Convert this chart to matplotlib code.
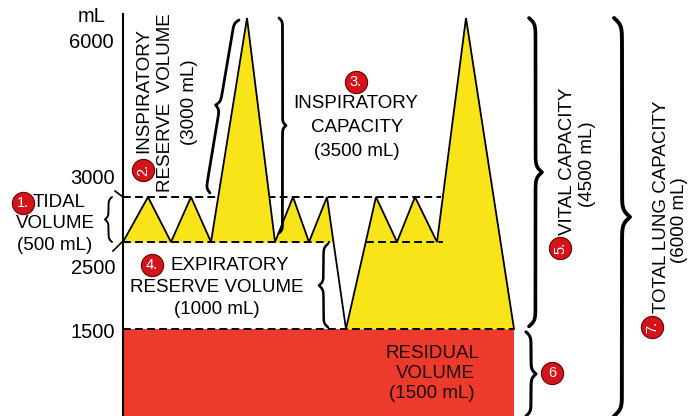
import numpy as np
import matplotlib
matplotlib.use('Agg')
import matplotlib.pyplot as plt

plt.rcParams['font.family'] = ['Liberation Sans', 'DejaVu Sans']

# ---------------- data ----------------
time_s = [12.3, 14.8, 17.1, 19.1, 21.1, 24.7, 27.5, 29.3, 30.9, 32.7,
          34.6, 37.6, 39.7, 41.5, 43.7, 46.6, 51.4]
volume_ml = [2500, 3000, 2500, 3000, 2500, 6000, 2500, 3000, 2500, 3000,
             1500, 3000, 2500, 3000, 2500, 6000, 1500]
tick_values = [6000, 3000, 2500, 1500]
tick_labels = ['6000', '3000', '2500', '1500']
residual_ml = 1500
tidal_top_ml = 3000
tidal_bottom_ml = 2500
peak_ml = 6000

YELLOW = '#F9E41A'
RED = '#EC3A2C'
BADGE = '#D3141B'
FS = 13.5

W, H = 694, 416
fig = plt.figure(figsize=(W / 100, H / 100), dpi=100)
ax = fig.add_axes([0, 0, 1, 1])

# schematic (piecewise) volume scale
vb = [-1500, 0, 1500, 2500, 3000, 6000, 9000]
pb = [-87, 0, 87, 174, 219, 398, 577]
fwd = lambda v: np.interp(v, vb, pb)
inv = lambda p: np.interp(p, pb, vb)
ax.set_yscale('function', functions=(fwd, inv))
ax.set_xlim(0, W / 10)
ax.set_ylim(0, float(inv(H)))
ax.axis('off')

t = np.array(time_s, dtype=float)
v = np.array(volume_ml, dtype=float)
split = int(np.argmin(v))

DASH = (0, (4, 2.2))
# residual volume block
ax.fill_between([t[0], t[-1]], 0, residual_ml, color=RED, lw=0, zorder=1)
# upper tidal reference (behind fill)
ax.hlines(tidal_top_ml, t[0], 44.1, colors='black', lw=1.4,
          linestyles=DASH, zorder=1.5)
# yellow spirogram fills
ax.fill_between(t[:split + 1], v[:split + 1], tidal_bottom_ml,
                where=v[:split + 1] >= tidal_bottom_ml, interpolate=True,
                color=YELLOW, lw=0, zorder=2)
ax.fill_between(t[split:], v[split:], residual_ml, color=YELLOW, lw=0, zorder=2)
# other reference lines
ax.hlines(tidal_bottom_ml, t[0], 33.0, colors='black', lw=1.4,
          linestyles=DASH, zorder=3)
ax.hlines(tidal_bottom_ml, 36.6, 44.3, colors='black', lw=1.4,
          linestyles=DASH, zorder=3)
ax.hlines(residual_ml, t[0], t[-1], colors='black', lw=1.4,
          linestyles=DASH, zorder=3)
# trace
ax.plot(t, v, color='black', lw=1.3, zorder=4, solid_joinstyle='miter')
# vertical axis
ax.plot([t[0], t[0]], [0, 6060], color='black', lw=1.5, zorder=4)

# tick labels
tick_offsets = [(-9, -24), (-8, 18), (-8, -27), (-8, -4)]
for val, lab, off in zip(tick_values, tick_labels, tick_offsets):
    ax.annotate(lab, xy=(t[0], val), xytext=off, textcoords='offset pixels',
                ha='right', va='center', fontsize=14.5)

fig.canvas.draw()
to_data = ax.transData.inverted()


def px2data(px, py):
    return to_data.transform((px, H - py))


def brace(p0, p1, depth, toward, lw=1.8):
    P0 = ax.transData.transform(p0)
    P1 = ax.transData.transform(p1)
    d = P1 - P0
    L = np.hypot(*d)
    u = d / L
    n = np.array([-u[1], u[0]])
    if (toward == 'left' and n[0] > 0) or (toward == 'right' and n[0] < 0):
        n = -n
    half = L / 2
    beta = 4.5 / depth
    s = np.linspace(0, half, 120)
    f = 1 / (1 + np.exp(-beta * s)) + 1 / (1 + np.exp(-beta * (s - half))) - 0.5
    f = f - f[0]
    f = f / f[-1]
    s_full = np.concatenate([s, L - s[::-1]])
    f_full = np.concatenate([f, f[::-1]])
    pts = P0[None, :] + u[None, :] * s_full[:, None] + n[None, :] * depth * f_full[:, None]
    dpts = to_data.transform(pts)
    ax.plot(dpts[:, 0], dpts[:, 1], color='black', lw=lw, zorder=5,
            solid_capstyle='round')


brace((11.2, 3000), (11.2, 2500), 7, 'left', lw=1.4)
brace((21.0, 3067), (23.9, 5966), 9, 'left', lw=2.0)
brace((27.9, 6000), (27.9, 2600), 7, 'right', lw=2.0)
brace((32.8, 2480), (32.8, 1520), 9, 'left', lw=1.8)
brace((52.9, 6000), (52.9, 1530), 13, 'right', lw=2.6)
brace((52.6, 1450), (52.6, 0), 10, 'right', lw=2.2)
brace((61.4, 6000), (61.4, 0), 16, 'right', lw=2.8)

# small guide lines of tidal brace
for a, b in [((115, 191), (123, 197)), ((113, 251), (123, 241))]:
    pa, pb_ = px2data(*a), px2data(*b)
    ax.plot([pa[0], pb_[0]], [pa[1], pb_[1]], color='black', lw=1.2, zorder=5)


def label(px, py, s, rot=0, ha='center', size=FS, color='black'):
    fig.text(px / W, 1 - py / H, s, rotation=rot, ha=ha, va='center',
             fontsize=size, color=color, zorder=6)


def badge(px, py, s, rot=0):
    x, y = px2data(px, py)
    ax.plot([x], [y], marker='o', ms=16, mfc=BADGE, mec='#6a0000', mew=0.8,
            zorder=7, clip_on=False)
    ax.text(x, y, s, rotation=rot, ha='center', va='center', fontsize=10.5,
            color='white', zorder=8)


label(92, 17, 'mL', size=14.5)
# 1 tidal volume
badge(23, 203, '1.')
label(33, 203, 'TIDAL', ha='left')
label(55, 224, 'VOLUME')
label(55, 245, '(500 mL)')
# 2 IRV
badge(143, 170, '2.', rot=90)
label(144, 91, 'INSPIRATORY', rot=90)
label(166, 103, 'RESERVE  VOLUME', rot=90)
label(190, 102, '(3000 mL)', rot=90)
# 3 IC
badge(356, 82, '3.')
label(356, 103, 'INSPIRATORY')
label(357, 128, 'CAPACITY')
label(357, 152, '(3500 mL)')
# 4 ERV
badge(152, 265, '4.')
label(170, 265, 'EXPIRATORY', ha='left')
label(217, 288, 'RESERVE VOLUME')
label(217, 310, '(1000 mL)')
# residual volume
label(432, 353, 'RESIDUAL', color='#1e0604')
label(435, 373, 'VOLUME', color='#1e0604')
label(432, 394, '(1500 mL)', color='#1e0604')
# 5 VC
badge(560, 248, '5.', rot=90)
label(568, 161, 'VITAL CAPACITY', rot=90)
label(587, 164, '(4500 mL)', rot=90)
# 6
badge(552, 373, '6')
# 7 TLC
badge(652, 327, '7.', rot=90)
label(661, 207, 'TOTAL LUNG CAPACITY', rot=90)
label(680, 220, '(6000 mL)', rot=90)

fig.savefig('out.png', dpi=100, facecolor='white')
